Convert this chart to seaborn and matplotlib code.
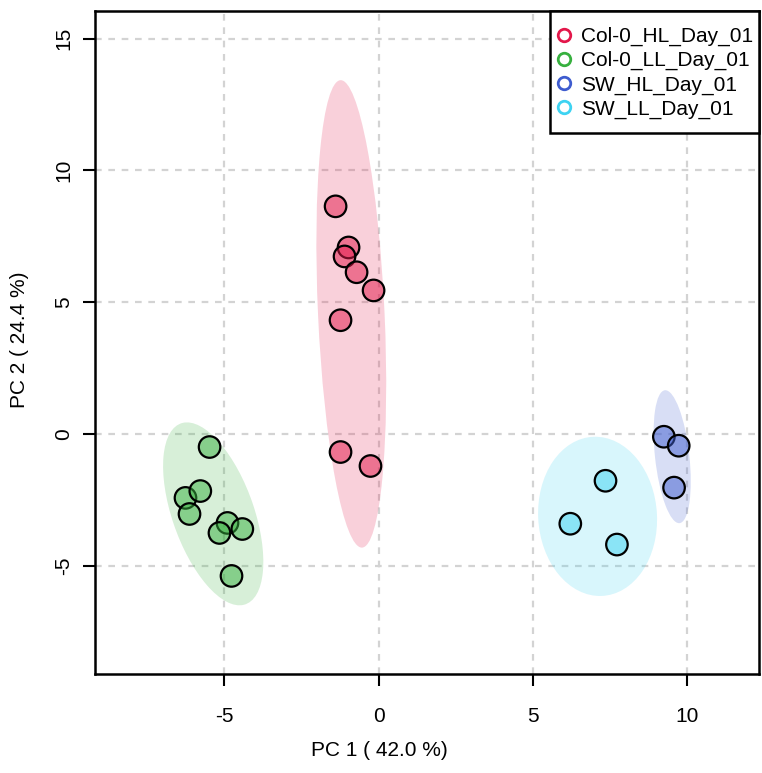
import numpy as np
import pandas as pd
import matplotlib
matplotlib.use("Agg")
import matplotlib.pyplot as plt
from matplotlib.patches import Ellipse, Rectangle
from matplotlib.lines import Line2D
import seaborn as sns

groups = ["Col-0_HL_Day_01", "Col-0_LL_Day_01", "SW_HL_Day_01", "SW_LL_Day_01"]
base_colors = ["#E3174A", "#37B03F", "#3E5CCF", "#3ED3F2"]

col0_hl_pc1 = [-1.39, -0.97, -1.10, -0.71, -0.16, -1.23, -1.23, -0.26]
col0_hl_pc2 = [8.64, 7.08, 6.74, 6.14, 5.45, 4.32, -0.68, -1.21]
col0_ll_pc1 = [-5.47, -6.25, -5.77, -6.12, -4.89, -5.15, -4.41, -4.76]
col0_ll_pc2 = [-0.49, -2.42, -2.16, -3.03, -3.37, -3.75, -3.60, -5.38]
sw_hl_pc1 = [9.24, 9.72, 9.57]
sw_hl_pc2 = [-0.10, -0.44, -2.03]
sw_ll_pc1 = [7.35, 6.21, 7.72]
sw_ll_pc2 = [-1.77, -3.40, -4.19]

xticks = [-5, 0, 5, 10]
yticks = [-5, 0, 5, 10, 15]
xlabel = "PC 1 ( 42.0 %)"
ylabel = "PC 2 ( 24.4 %)"

pc1 = [col0_hl_pc1, col0_ll_pc1, sw_hl_pc1, sw_ll_pc1]
pc2 = [col0_hl_pc2, col0_ll_pc2, sw_hl_pc2, sw_ll_pc2]
df = pd.concat([pd.DataFrame({"PC1": a, "PC2": b, "group": g})
                for a, b, g in zip(pc1, pc2, groups)], ignore_index=True)

sns.set_style("white")
plt.rcParams["font.family"] = ["Liberation Sans", "DejaVu Sans"]
plt.rcParams["text.color"] = "black"
plt.rcParams["axes.labelcolor"] = "black"
plt.rcParams["xtick.color"] = "black"
plt.rcParams["ytick.color"] = "black"

FS = 15

fig = plt.figure(figsize=(7.62, 7.73), dpi=100)
ax = fig.add_axes([95/762, 1-674/773, (759-95)/762, (674-11)/773])

ax.set_xlim(-9.18, 12.32)
ax.set_ylim(-9.1, 16.05)

# grid
for t in xticks:
    ax.axvline(t, color="#D3D3D3", lw=1.6, ls=(0, (3, 3)), zorder=0)
for t in yticks:
    ax.axhline(t, color="#D3D3D3", lw=1.6, ls=(0, (3, 3)), zorder=0)

# 95% normal ellipses from data
chi = np.sqrt(5.991)
for a, b, c in zip(pc1, pc2, base_colors):
    xy = np.column_stack([a, b])
    m = xy.mean(axis=0)
    cov = np.cov(xy, rowvar=False)
    vals, vecs = np.linalg.eigh(cov)
    order = vals.argsort()[::-1]
    vals, vecs = vals[order], vecs[:, order]
    ang = np.degrees(np.arctan2(vecs[1, 0], vecs[0, 0]))
    e = Ellipse(m, 2*chi*np.sqrt(vals[0]), 2*chi*np.sqrt(vals[1]), angle=ang,
                facecolor=matplotlib.colors.to_rgba(c, 0.2), edgecolor="none", zorder=1)
    ax.add_patch(e)

pal = {g: matplotlib.colors.to_rgba(c, 0.5) for g, c in zip(groups, base_colors)}
sns.scatterplot(data=df, x="PC1", y="PC2", hue="group", palette=pal, ax=ax,
                s=240, edgecolor="black", linewidth=1.6, legend=False, zorder=3)
coll = ax.collections[-1]
coll.set_facecolors([pal[g] for g in df["group"]])
coll.set_edgecolors("black")
coll.set_alpha(None)

ax.set_xticks(xticks)
ax.set_yticks(yticks)
ax.set_xticklabels([str(t) for t in xticks], fontsize=FS)
ax.set_yticklabels([str(t) for t in yticks], fontsize=FS, rotation=90, va="center")
ax.tick_params(axis="both", direction="out", length=8.6, width=1.5, color="black",
               bottom=True, left=True)
ax.tick_params(axis="x", pad=15)
ax.tick_params(axis="y", pad=7)
ax.set_xlabel(xlabel, fontsize=FS)
ax.set_ylabel(ylabel, fontsize=FS)
ax.xaxis.set_label_coords((379 - 95) / 664, (674 - 750) / 663)
ax.yaxis.set_label_coords((20 - 95) / 664, (674 - 340) / 663)
ax.xaxis.label.set_va("center")
ax.yaxis.label.set_va("center")
for s in ax.spines.values():
    s.set_visible(True)
    s.set_color("black")
    s.set_linewidth(1.8)

handles = [Line2D([0], [0], marker="o", ls="none", markerfacecolor="none",
                  markeredgecolor=c, markeredgewidth=2.0, markersize=9) for c in base_colors]
leg = ax.legend(handles, groups, loc="upper right", frameon=False,
                bbox_to_anchor=((753 - 95) / 664, (674 - 27) / 663),
                borderaxespad=0, borderpad=0, fontsize=FS, handletextpad=0.3,
                handlelength=1.0, labelspacing=0.24)
leg.set_zorder(5)

# legend frame, R-style (larger vertical padding)
fig.canvas.draw()
bb = leg.get_window_extent().transformed(ax.transAxes.inverted())
px = 1 / 664
py = 1 / 663
x0 = bb.x0 - 4 * px
y0 = bb.y0 - 14 * py
rect = Rectangle((x0, y0), 1 - x0, 1 - y0,
                 transform=ax.transAxes, facecolor="white", edgecolor="black",
                 linewidth=1.8, zorder=4, clip_on=False)
ax.add_patch(rect)

fig.savefig("out.png", dpi=100)
